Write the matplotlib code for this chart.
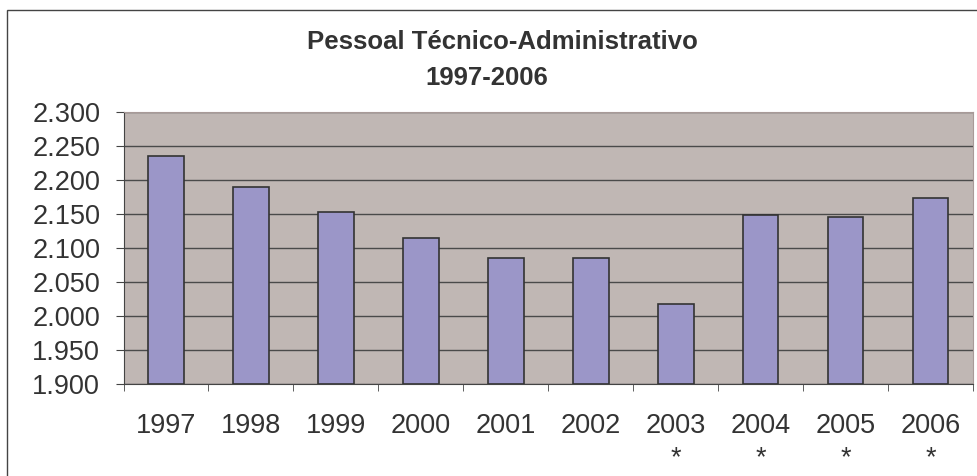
import matplotlib
matplotlib.use("Agg")
import matplotlib.pyplot as plt
from matplotlib.patches import Rectangle
from matplotlib.ticker import FuncFormatter

years = ["1997", "1998", "1999", "2000", "2001", "2002", "2003", "2004", "2005", "2006"]
marked = [False, False, False, False, False, False, True, True, True, True]
staff = [2235, 2190, 2153, 2114, 2085, 2085, 2017, 2149, 2146, 2173]
y_ticks = [1900, 1950, 2000, 2050, 2100, 2150, 2200, 2250, 2300]

plt.rcParams["font.family"] = ["Liberation Sans", "DejaVu Sans"]
TXT = "#333333"

fig = plt.figure(figsize=(9.78, 4.76), dpi=100)
W, H = 978, 476

# outer chart frame
fig.patches.append(Rectangle((7 / W, -0.05), 1.2, 1 - 10 / H + 0.05,
                             transform=fig.transFigure, fill=False,
                             edgecolor="#444444", linewidth=1.0))

ax = fig.add_axes([123.5 / W, (H - 384) / H, (973 - 123.5) / W, (384 - 112) / H])
ax.set_facecolor("#c0b7b4")

x = list(range(len(years)))
ax.bar(x, [v - 1900 for v in staff], bottom=1900, width=0.42,
       color="#9b96c8", edgecolor="#333333", linewidth=1.2, zorder=3)

ax.set_xlim(-0.5, len(years) - 0.5)
ax.set_ylim(1900, 2300)
ax.set_yticks(y_ticks)
ax.yaxis.set_major_formatter(FuncFormatter(lambda v, p: f"{int(v):,}".replace(",", ".")))
ax.grid(axis="y", color="#4a4a4a", linewidth=1.0, zorder=1)
ax.set_axisbelow(True)

ax.set_xticks(x)
ax.set_xticklabels([y + ("\n*" if m else "") for y, m in zip(years, marked)],
                   va="top", linespacing=1.3)
ax.set_xticks([i - 0.5 for i in range(len(years) + 1)], minor=True)
ax.tick_params(axis="x", which="major", length=0, pad=21, labelsize=19.5, labelcolor=TXT)
ax.tick_params(axis="x", which="minor", length=5, direction="out", color="#444444")
ax.tick_params(axis="y", length=5.8, direction="out", color="#444444", pad=11,
               labelsize=19.5, labelcolor=TXT)

for s in ["left", "bottom"]:
    ax.spines[s].set_color("#444444")
for s in ["top", "right"]:
    ax.spines[s].set_color("#a89a98")

fig.text(502 / W, 1 - 49 / H, "Pessoal Técnico-Administrativo", ha="center",
         va="baseline", fontsize=18.5, fontweight="bold", color=TXT)
fig.text(486.5 / W, 1 - 85 / H, "1997-2006", ha="center", va="baseline",
         fontsize=18.5, fontweight="bold", color=TXT)

fig.savefig("out.png", dpi=100)
